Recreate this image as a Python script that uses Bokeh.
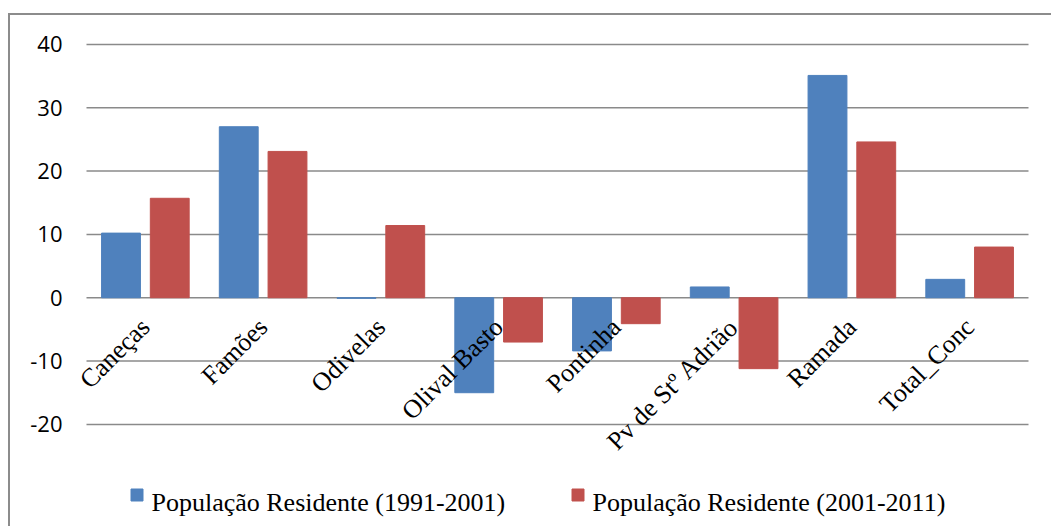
from bokeh.plotting import figure
from bokeh.models import (ColumnDataSource, FactorRange, Range1d, FixedTicker,
                          Legend, LegendItem, InlineStyleSheet)
from bokeh.core.properties import value
from bokeh.transform import dodge
from bokeh.embed import file_html
from bokeh.resources import INLINE
import math

categories = ["Caneças", "Famões", "Odivelas", "Olival Basto", "Pontinha",
              "Pv de Stº Adrião", "Ramada", "Total_Conc"]
pop_1991_2001 = [10.2, 27.0, -0.1, -15.0, -8.4, 1.7, 35.1, 2.9]
pop_2001_2011 = [15.7, 23.1, 11.4, -7.0, -4.1, -11.2, 24.6, 8.0]
y_ticks = [-20, -10, 0, 10, 20, 30, 40]
series_names = ["População Residente (1991-2001)", "População Residente (2001-2011)"]

BLUE = "#4F81BD"
RED = "#C0504D"
GRID = "#8a8a8a"

src = ColumnDataSource(dict(cat=categories, a=pop_1991_2001, b=pop_2001_2011))

W, H = 1051, 526
TOP = 42                  # canvas px above the plotting frame
PX_PER_UNIT = 63.33 / 10  # vertical scale of the reference
y_top = 40.3
y_bottom = y_top - (H - TOP) / PX_PER_UNIT   # frame reaches down to hold the legend

CAT_PX = 942 / len(categories)   # width of one category in px
SIDE_PX = 8                      # extra room so rotated labels are not clipped
side = SIDE_PX / CAT_PX
pct = 2 * side / len(categories)

p = figure(width=W, height=H, output_backend="svg", toolbar_location=None,
           x_range=FactorRange(*categories, range_padding=pct),
           y_range=Range1d(y_bottom, y_top),
           min_border_left=86 - SIDE_PX, min_border_right=W - 1028 - SIDE_PX,
           min_border_top=TOP, min_border_bottom=0)
p.outline_line_color = None
p.background_fill_color = "white"
p.border_fill_color = "white"
p.stylesheets = [InlineStyleSheet(css="""
:host::after { content: ''; position: absolute; left: 8px; top: 13px;
  width: 1100px; height: 600px; border: 2px solid #8c8c8c;
  pointer-events: none; box-sizing: border-box; }
""")]

# horizontal gridlines spanning exactly the category area
grid_src = ColumnDataSource(dict(y=y_ticks,
                                 x0=[categories[0]] * len(y_ticks),
                                 x1=[categories[-1]] * len(y_ticks)))
p.segment(x0=dodge("x0", -0.5, range=p.x_range), x1=dodge("x1", 0.5, range=p.x_range),
          y0="y", y1="y", source=grid_src, line_color=GRID, line_width=1.5)
p.ygrid.grid_line_color = None
p.xgrid.grid_line_color = None

r1 = p.vbar(x=dodge("cat", -0.207, range=p.x_range), top="a", width=0.33,
            source=src, fill_color=BLUE, line_color=BLUE)
r2 = p.vbar(x=dodge("cat", 0.207, range=p.x_range), top="b", width=0.33,
            source=src, fill_color=RED, line_color=RED)

# y axis
yax = p.yaxis[0]
yax.ticker = FixedTicker(ticks=y_ticks)
yax.major_label_overrides = {t: str(t) for t in y_ticks}
yax.axis_line_color = None
yax.major_tick_line_color = None
yax.minor_tick_line_color = None
yax.major_tick_out = 0
yax.major_label_standoff = 24 - SIDE_PX
yax.major_label_text_font = "Open Sans"
yax.major_label_text_font_size = "22px"
yax.major_label_text_color = "black"

# x axis crossing at zero
xax = p.xaxis[0]
xax.fixed_location = 0
xax.axis_line_color = None
xax.major_tick_line_color = None
xax.minor_tick_line_color = None
xax.major_tick_out = 0
xax.major_label_orientation = math.pi / 4
xax.major_label_standoff = 25
xax.major_label_text_font = "Liberation Serif"
xax.major_label_text_font_size = "26px"
xax.major_label_text_color = "black"

# legend: coloured squares from Legend, serif labels as text glyphs
for r, loc in ((r1, (51, 17)), (r2, (492, 17))):
    lg = Legend(items=[LegendItem(label=" ", renderers=[r])],
                orientation="horizontal", location=loc,
                glyph_width=15, glyph_height=15, label_standoff=0,
                padding=0, margin=0, border_line_color=None,
                background_fill_alpha=0, label_text_font_size="26px",
                label_height=30)
    p.add_layout(lg)

legend_src = ColumnDataSource(dict(anchor=[categories[0], categories[4]],
                                   label=series_names,
                                   xoff=[151 - 144.9, 592 - 615.9]))
LEGEND_Y = y_top - 0.3 - (502 - 44) / PX_PER_UNIT
p.text(x=dodge("anchor", 0.0, range=p.x_range), y=LEGEND_Y, text="label",
       x_offset="xoff", source=legend_src, text_font=value("Liberation Serif"),
       text_font_size="26px", text_color="black",
       text_align="left", text_baseline="alphabetic")

open("out.html", "w").write(file_html(p, INLINE))
